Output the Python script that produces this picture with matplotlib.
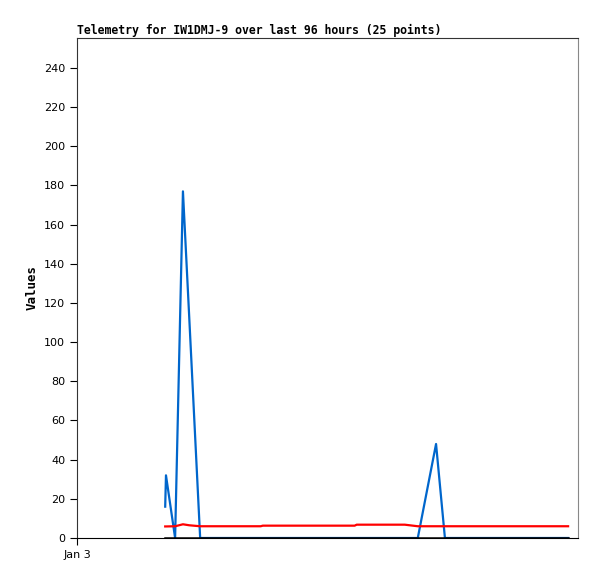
import matplotlib
matplotlib.use("Agg")
import matplotlib.pyplot as plt

# hours since Jan 3 00:00
hours = [16.9, 17.05, 18.8, 20.3, 21.5, 23.6, 29, 35.2, 35.6, 42, 48, 53.2, 53.6,
         58, 62.8, 65.3, 68.8, 70.5, 74, 78, 82, 86, 90, 92, 94.1]
blue_vals = [16, 32, 0, 177, 113, 0, 0, 0, 0, 0, 0, 0, 0,
             0, 0, 0, 48, 0, 0, 0, 0, 0, 0, 0, 0]
red_vals = [5.9, 5.9, 6, 7, 6.5, 6, 6, 6, 6.3, 6.3, 6.3, 6.3, 6.8,
            6.8, 6.8, 6, 6, 6, 6, 6, 6, 6, 6, 6, 6]
black_vals = [0] * 25

fig = plt.figure(figsize=(5.97, 5.79), dpi=100)
ax = fig.add_axes([77/597, 41/579, 501/597, 500/579])

ax.plot(hours, blue_vals, color='#0066cc', lw=1.6)
ax.plot(hours, red_vals, color='#ff0000', lw=1.6)
ax.plot(hours, black_vals, color='black', lw=1.8)

ax.set_xlim(0, 96)
ax.set_ylim(0, 255.3)
ax.set_yticks(range(0, 241, 20))
ax.set_xticks([0])
ax.set_xticklabels(['Jan 3'])
ax.tick_params(labelsize=8, length=5, width=0.8, direction='out')

for s in ['top', 'left']:
    ax.spines[s].set_color('#333333')
ax.spines['right'].set_color('#888888')
ax.spines['bottom'].set_color('black')

ax.set_ylabel('Values', family='DejaVu Sans Mono', fontweight='bold', fontsize=9)
ax.set_title('Telemetry for IW1DMJ-9 over last 96 hours (25 points)',
             family='DejaVu Sans Mono', fontweight='bold', fontsize=8.3, loc='left', pad=3)

fig.savefig('out.png', dpi=100)
